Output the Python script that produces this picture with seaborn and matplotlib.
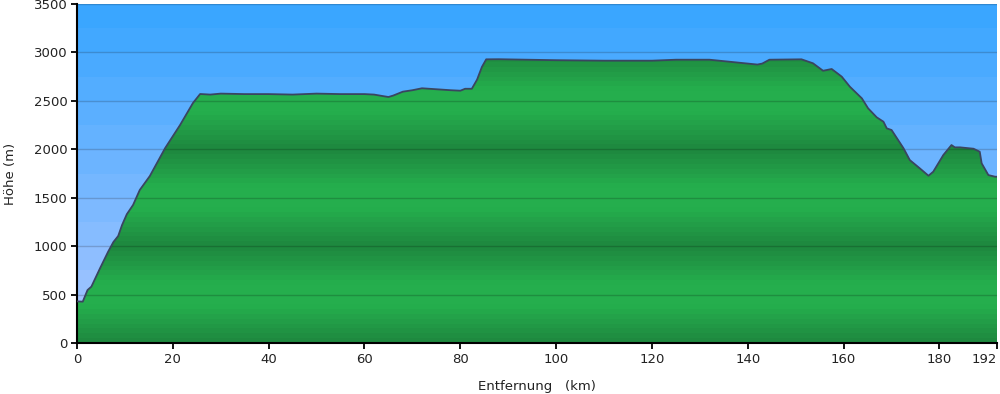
import numpy as np
import pandas as pd
import matplotlib
matplotlib.use("Agg")
import matplotlib.pyplot as plt
from matplotlib.colors import LinearSegmentedColormap
import seaborn as sns

# Höhenprofil (km, m)
km = [0, 1.2, 2.2, 3.0, 4.8, 6.5, 7.6, 8.6, 9.4, 10.4, 11.7, 13.1, 15.2, 18.4, 21.5,
      24.2, 25.7, 27.8, 30, 35, 40, 45, 50, 55, 60, 62, 64, 65, 66, 68, 70, 72, 75,
      78, 80, 81, 82.4, 83.5, 84.5, 85.4, 88, 100, 110, 120, 125, 132, 136, 140,
      142, 143, 144.5, 151.2, 153.6, 155.7, 157.5, 159.6, 161.3, 163.8, 165.1,
      166.9, 168.3, 169.0, 170.0, 172.5, 173.8, 175.9, 177.7, 178.7, 180.8, 182.5,
      183.2, 184.3, 187.1, 188.4, 188.8, 190.2, 191.6, 192]
hoehe = [430, 427, 547, 582, 771, 943, 1043, 1105, 1218, 1330, 1425, 1580, 1724, 2013,
         2250, 2478, 2571, 2565, 2575, 2570, 2570, 2565, 2575, 2570, 2570, 2565, 2548,
         2540, 2555, 2595, 2610, 2630, 2620, 2610, 2605, 2625, 2625, 2720, 2850, 2929,
         2930, 2920, 2915, 2915, 2925, 2925, 2905, 2885, 2875, 2885, 2925, 2929, 2888,
         2811, 2829, 2750, 2646, 2526, 2423, 2330, 2285, 2216, 2199, 2010, 1889, 1803,
         1727, 1769, 1941, 2044, 2020, 2020, 2006, 1975, 1855, 1734, 1717, 1717]

x_ticks = [0, 20, 40, 60, 80, 100, 120, 140, 160, 180, 192]
y_ticks = [0, 500, 1000, 1500, 2000, 2500, 3000, 3500]

df = pd.DataFrame({"km": km, "hoehe": hoehe})

sns.set_style("ticks")
plt.rcParams["font.family"] = ["DejaVu Sans"]

fig = plt.figure(figsize=(10, 3.94), dpi=100)
ax = fig.add_axes([0.077, 0.1294, 0.92, 0.8604])
xmax, ymax = 192, 3500

# Himmel: gestufter Blauverlauf
sky = LinearSegmentedColormap.from_list("sky", ["#a8c6ff", "#3aa6ff"])
sky_rows = np.linspace(0, 1, 14)[:, None]
ax.imshow(sky_rows, cmap=sky, aspect="auto", origin="lower",
          extent=[0, xmax, 0, ymax], interpolation="nearest", zorder=0)

# Gelände: grüne Bänder, dunkel bei vollen 1000 m
n = 70
mids = (np.arange(n) + 0.5) * ymax / n
tri = 1 - np.abs(((mids % 1000) / 1000) - 0.5) * 2
tri = np.clip(tri * 1.3, 0, 1)
green = LinearSegmentedColormap.from_list("gr", ["#1e873f", "#25ae4d"])
im = ax.imshow(tri[:, None], cmap=green, vmin=0, vmax=1, aspect="auto",
               origin="lower", extent=[0, xmax, 0, ymax],
               interpolation="nearest", zorder=1)
poly = ax.fill_between(df["km"], df["hoehe"], 0, facecolor="none", edgecolor="none")
im.set_clip_path(poly.get_paths()[0], transform=ax.transData)

sns.lineplot(data=df, x="km", y="hoehe", ax=ax, color="#3a4560", linewidth=1.3,
             zorder=3)

ax.set_xlim(0, xmax)
ax.set_ylim(0, ymax)
ax.set_xticks(x_ticks)
ax.set_yticks(y_ticks)
ax.set_axisbelow(False)
ax.grid(axis="y", color="black", alpha=0.18, linewidth=1)
ax.grid(axis="x", visible=False)

for s in ["top", "right"]:
    ax.spines[s].set_visible(False)
for s in ["left", "bottom"]:
    ax.spines[s].set_color("black")
    ax.spines[s].set_linewidth(1.5)
ax.tick_params(length=4, width=1.3, color="black", labelcolor="#222222",
               labelsize=9.5, pad=3)
ax.get_xticklabels()[-1].set_horizontalalignment("right")

ax.set_xlabel("Entfernung   (km)", fontsize=9.5, color="#222222", labelpad=10)
ax.set_ylabel("Höhe (m)", fontsize=9.5, color="#222222", labelpad=12)

fig.savefig("out.png", dpi=100)
